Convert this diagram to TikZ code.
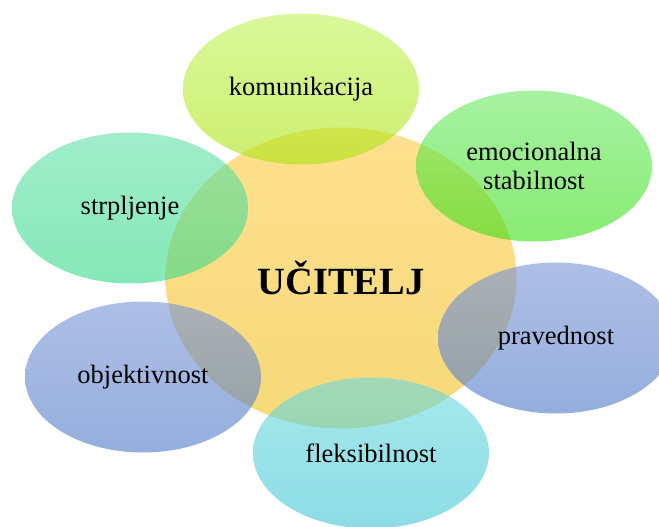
\documentclass[tikz,border=0pt]{standalone}
\usepackage{fontspec}
\setmainfont{Liberation Serif}
\usetikzlibrary{shapes.geometric}
\definecolor{zutaA}{RGB}{252,203,67}
\definecolor{zutaB}{RGB}{240,192,30}
\definecolor{limA}{RGB}{192,245,88}
\definecolor{limB}{RGB}{172,227,13}
\definecolor{zelA}{RGB}{107,233,100}
\definecolor{zelB}{RGB}{57,223,20}
\definecolor{mentA}{RGB}{97,225,167}
\definecolor{mentB}{RGB}{53,217,137}
\definecolor{plavA}{RGB}{120,148,213}
\definecolor{plavB}{RGB}{77,120,198}
\definecolor{tirkA}{RGB}{107,217,223}
\definecolor{tirkB}{RGB}{65,198,213}
\begin{document}
\begin{tikzpicture}[x=1pt,y=-1pt,
    krug/.style={ellipse,minimum width=236pt,minimum height=151pt,inner sep=0pt,
        fill opacity=0.6,text opacity=1,align=center,
        font=\fontsize{26.5}{29}\selectfont},
    sredina/.style={ellipse,minimum width=351pt,minimum height=301pt,inner sep=0pt,
        fill opacity=0.6,text opacity=1,
        font=\fontsize{38.5}{42}\selectfont\bfseries}]
    \useasboundingbox (0,0) rectangle (659,527);
    \node[sredina,top color=zutaA,bottom color=zutaB] (ucitelj) at (341,278) {UČITELJ};
    \node[krug,top color=limA,bottom color=limB] (komunikacija) at (301,89) {komunikacija};
    \node[krug,top color=zelA,bottom color=zelB] (emocionalna) at (534,166) {emocionalna\\stabilnost};
    \node[krug,top color=mentA,bottom color=mentB] (strpljenje) at (130,208) {strpljenje};
    \node[krug,top color=plavA,bottom color=plavB] (pravednost) at (556,338) {pravednost};
    \node[krug,top color=plavA,bottom color=plavB] (objektivnost) at (143,377) {objektivnost};
    \node[krug,top color=tirkA,bottom color=tirkB] (fleksibilnost) at (371,453) {fleksibilnost};
\end{tikzpicture}
\end{document}
